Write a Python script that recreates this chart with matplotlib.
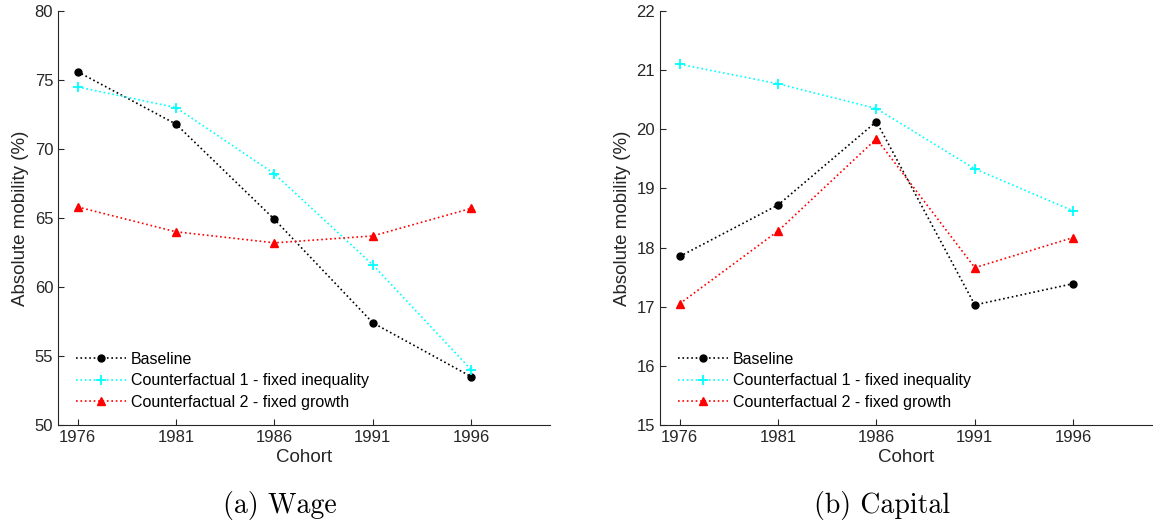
import matplotlib.pyplot as plt

# data
cohorts = [1976, 1981, 1986, 1991, 1996]

wage_baseline = [75.6, 71.8, 64.9, 57.4, 53.5]
wage_cf1 = [74.5, 73.0, 68.2, 61.6, 54.0]
wage_cf2 = [65.8, 64.0, 63.2, 63.7, 65.7]

cap_baseline = [17.85, 18.72, 20.13, 17.03, 17.39]
cap_cf1 = [21.10, 20.77, 20.35, 19.33, 18.62]
cap_cf2 = [17.05, 18.28, 19.84, 17.66, 18.17]

labels = ['Baseline', 'Counterfactual 1 - fixed inequality', 'Counterfactual 2 - fixed growth']

plt.rcParams['font.family'] = ['Liberation Sans', 'DejaVu Sans']

fig = plt.figure(figsize=(11.53, 5.29), dpi=100)
ax1 = fig.add_axes([0.0503, 0.1966, 0.4267, 0.7826])
ax2 = fig.add_axes([0.5724, 0.1966, 0.4267, 0.7826])


def draw(ax, base, cf1, cf2, ylim, yticks):
    ax.plot(cohorts, base, ':', color='black', marker='o', markersize=5, lw=1.2, label=labels[0])
    ax.plot(cohorts, cf1, ':', color='cyan', marker='+', markersize=7, mew=1.3, lw=1.2, label=labels[1])
    ax.plot(cohorts, cf2, ':', color='red', marker='^', markersize=6, lw=1.2, label=labels[2])
    ax.set_xlim(1975, 2000)
    ax.set_ylim(*ylim)
    ax.set_xticks(cohorts)
    ax.set_yticks(yticks)
    ax.tick_params(direction='in', labelsize=12, colors='#262626', length=4)
    for s in ['top', 'right']:
        ax.spines[s].set_visible(False)
    for s in ['left', 'bottom']:
        ax.spines[s].set_color('#262626')
    ax.set_xlabel('Cohort', fontsize=13.5, color='#262626', labelpad=3)
    ax.set_ylabel('Absolute mobility (%)', fontsize=13.5, color='#262626', labelpad=4)
    ax.legend(loc='lower left', frameon=False, fontsize=11.5, handlelength=3.1,
              handletextpad=0.35, borderaxespad=0.3, labelspacing=0.4,
              bbox_to_anchor=(0.014, 0.01))


draw(ax1, wage_baseline, wage_cf1, wage_cf2, (50, 80), range(50, 81, 5))
draw(ax2, cap_baseline, cap_cf1, cap_cf2, (15, 22), range(15, 23))

fig.text(0.243, 0.045, '(a) Wage', fontname='cmr10', fontsize=20, ha='center', va='center')
fig.text(0.765, 0.045, '(b) Capital', fontname='cmr10', fontsize=20, ha='center', va='center')

plt.savefig('out.png', dpi=100)
